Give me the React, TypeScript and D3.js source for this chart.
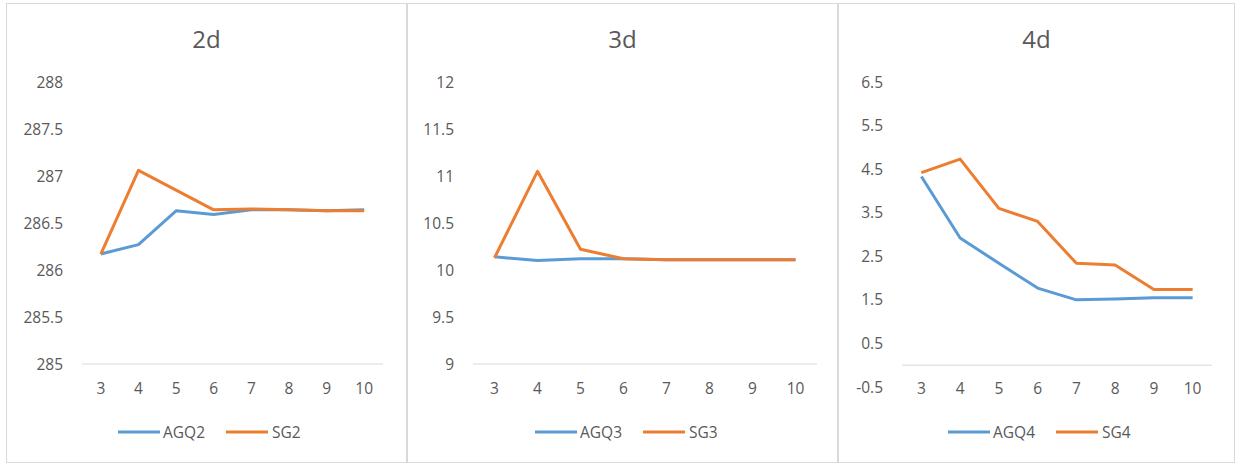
import React from "react";
import * as d3 from "d3";

const categories = ["3", "4", "5", "6", "7", "8", "9", "10"];

const agq2 = [286.17, 286.27, 286.63, 286.59, 286.64, 286.64, 286.63, 286.64];
const sg2 = [286.17, 287.06, 286.85, 286.64, 286.65, 286.64, 286.63, 286.63];
const ticks2 = [285, 285.5, 286, 286.5, 287, 287.5, 288];

const agq3 = [10.14, 10.1, 10.12, 10.12, 10.11, 10.11, 10.11, 10.11];
const sg3 = [10.13, 11.05, 10.22, 10.12, 10.11, 10.11, 10.11, 10.11];
const ticks3 = [9, 9.5, 10, 10.5, 11, 11.5, 12];

const agq4 = [4.33, 2.92, 2.34, 1.77, 1.5, 1.52, 1.55, 1.55];
const sg4 = [4.42, 4.73, 3.6, 3.3, 2.34, 2.3, 1.74, 1.74];
const ticks4 = [-0.5, 0.5, 1.5, 2.5, 3.5, 4.5, 5.5, 6.5];

const BLUE = "#5B9BD5";
const ORANGE = "#ED7D31";
const TEXT = "#595959";
const GRID = "#D9D9D9";
const FONT = "'Open Sans', sans-serif";

type PanelProps = {
  title: string;
  frame: [number, number];
  plotX: [number, number];
  domain: [number, number];
  yRange: [number, number];
  axisValue: number;
  ticks: number[];
  labelX: number;
  a: number[];
  b: number[];
  aName: string;
  bName: string;
  legendX: number;
};

function Panel(p: PanelProps) {
  const x = d3.scaleBand<string>().domain(categories).range(p.plotX).padding(0);
  const y = d3.scaleLinear().domain(p.domain).range(p.yRange);
  const cx = (c: string) => (x(c) as number) + x.bandwidth() / 2;
  const line = d3
    .line<number>()
    .x((_, i) => cx(categories[i]))
    .y((v) => y(v));
  const ay = y(p.axisValue);
  const titleX = (p.frame[0] + p.frame[1]) / 2;
  const lx = p.legendX;
  return (
    <g>
      <rect
        x={p.frame[0] + 0.5}
        y={3.5}
        width={p.frame[1] - p.frame[0] - 1}
        height={459}
        fill="#fff"
        stroke={GRID}
        strokeWidth={1}
      />
      <text x={titleX} y={48} textAnchor="middle" fontSize={24} fill={TEXT} fontFamily={FONT}>
        {p.title}
      </text>
      {p.ticks.map((t) => (
        <text
          key={t}
          x={p.labelX}
          y={y(t)}
          dy="0.36em"
          textAnchor="end"
          fontSize={15.5}
          fill={TEXT}
          fontFamily={FONT}
        >
          {String(t)}
        </text>
      ))}
      <line x1={p.plotX[0]} x2={p.plotX[1]} y1={ay} y2={ay} stroke={GRID} strokeWidth={1} />
      {categories.map((c) => (
        <text
          key={c}
          x={cx(c)}
          y={394}
          textAnchor="middle"
          fontSize={15.5}
          fill={TEXT}
          fontFamily={FONT}
        >
          {c}
        </text>
      ))}
      <path d={line(p.a) || ""} fill="none" stroke={BLUE} strokeWidth={3} strokeLinejoin="round" />
      <path d={line(p.b) || ""} fill="none" stroke={ORANGE} strokeWidth={3} strokeLinejoin="round" />
      <line x1={lx} x2={lx + 42} y1={432} y2={432} stroke={BLUE} strokeWidth={3} />
      <text x={lx + 45} y={437.5} fontSize={15.5} fill={TEXT} fontFamily={FONT}>
        {p.aName}
      </text>
      <line x1={lx + 108} x2={lx + 150} y1={432} y2={432} stroke={ORANGE} strokeWidth={3} />
      <text x={lx + 154} y={437.5} fontSize={15.5} fill={TEXT} fontFamily={FONT}>
        {p.bName}
      </text>
    </g>
  );
}

export default function App() {
  return (
    <svg
      width={1236}
      height={463}
      style={{ position: "absolute", left: 0, top: 0, background: "#fff" }}
    >
      <rect x={0} y={0} width={1236} height={463} fill="#fff" />
      <Panel
        title="2d"
        frame={[6, 407]}
        plotX={[82, 383]}
        domain={[285, 288]}
        yRange={[364, 82]}
        axisValue={285}
        ticks={ticks2}
        labelX={63}
        a={agq2}
        b={sg2}
        aName="AGQ2"
        bName="SG2"
        legendX={118}
      />
      <Panel
        title="3d"
        frame={[407, 838]}
        plotX={[473, 817]}
        domain={[9, 12]}
        yRange={[364, 82]}
        axisValue={9}
        ticks={ticks3}
        labelX={454}
        a={agq3}
        b={sg3}
        aName="AGQ3"
        bName="SG3"
        legendX={535}
      />
      <Panel
        title="4d"
        frame={[838, 1235]}
        plotX={[902, 1212]}
        domain={[-0.5, 6.5]}
        yRange={[387, 82]}
        axisValue={0}
        ticks={ticks4}
        labelX={883}
        a={agq4}
        b={sg4}
        aName="AGQ4"
        bName="SG4"
        legendX={948}
      />
    </svg>
  );
}
